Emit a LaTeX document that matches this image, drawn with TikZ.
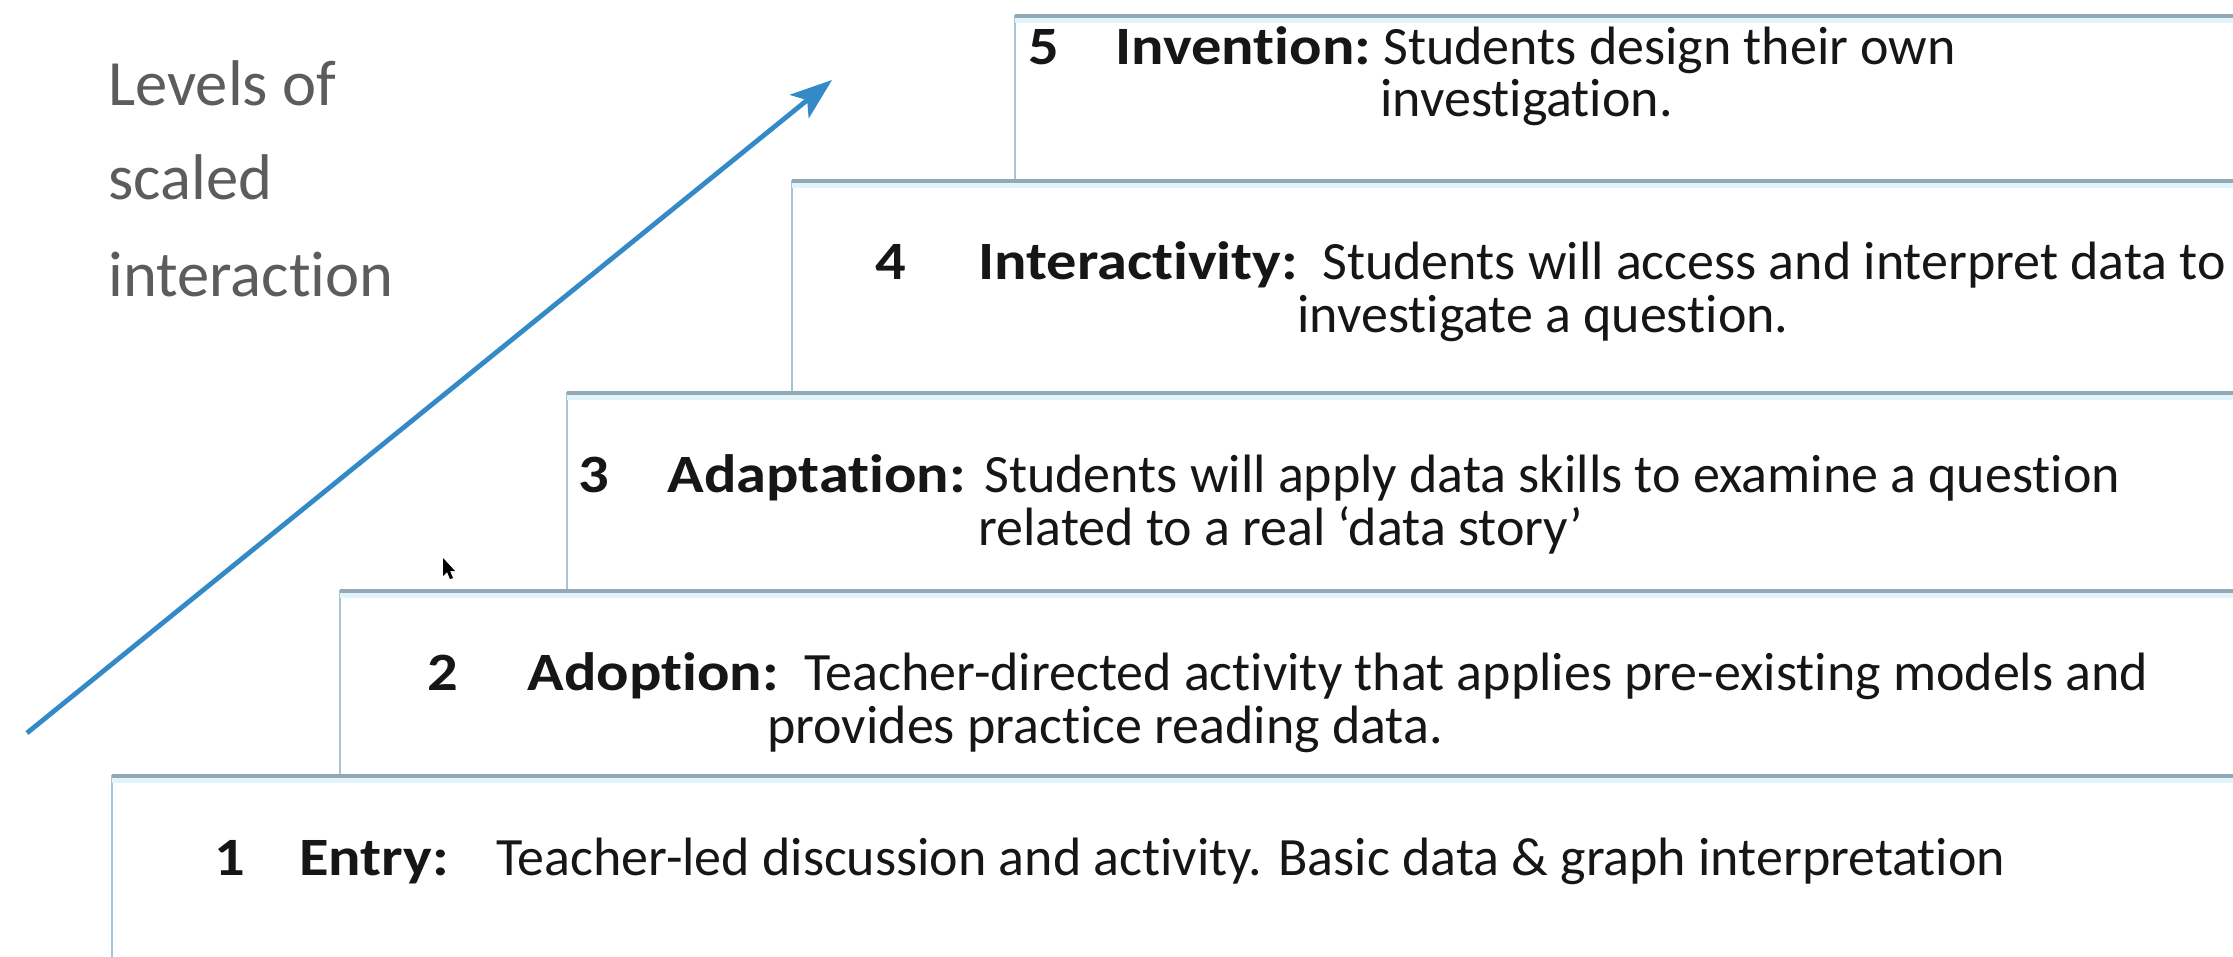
\documentclass[tikz,border=0pt]{standalone}
\usepackage{fontspec}
\setmainfont{Carlito}[Ligatures={TeX,NoCommon},BoldFeatures={FakeStretch=1.12}]
\usetikzlibrary{arrows.meta}

\definecolor{arrowblue}{RGB}{52,138,199}
\definecolor{edgetop}{RGB}{146,168,181}
\definecolor{edgeside}{RGB}{165,196,214}
\definecolor{glow}{RGB}{226,244,250}
\definecolor{captiongray}{RGB}{92,92,92}
\definecolor{bodytext}{RGB}{22,22,22}

\tikzset{
  levelbox/.style={draw=edgeside, line width=1.2pt, fill=white},
  topedge/.style={draw=edgetop, line width=2pt},
  topglow/.style={draw=glow, line width=3pt},
  caption/.style={anchor=base west, inner sep=0pt, text=captiongray,
                  font=\fontsize{32.3}{38}\selectfont},
  levelnum/.style={anchor=base west, inner sep=0pt, text=bodytext,
                   font=\fontsize{27}{30}\selectfont\bfseries},
  levelname/.style={anchor=base west, inner sep=0pt, text=bodytext,
                    font=\fontsize{27}{30}\selectfont\bfseries},
  leveltext/.style={anchor=base west, inner sep=0pt, text=bodytext,
                    font=\fontsize{27}{30}\selectfont},
  risearrow/.style={draw=arrowblue, line width=2.4pt,
                    -{Stealth[length=21pt,width=15pt,inset=5pt]}}
}

\begin{document}
\begin{tikzpicture}[x=0.5pt,y=-0.5pt]
  \useasboundingbox (0,0) rectangle (2233,957);
  \clip (0,0) rectangle (2233,957);
  \fill[white] (0,0) rectangle (2233,957);

  % the five stacked level boxes (open to the right edge)
  \foreach \name/\l/\t/\b in {box5/1015/16/181, box4/792/181/393,
                              box3/567/393/591, box2/340/591/776,
                              box1/112/776/1000} {
    \path[levelbox] (\l,\t) rectangle (2260,\b);
    \coordinate (\name-nw) at (\l,\t);
    \coordinate (\name-ne) at (2260,\t);
    \draw[topglow] ([yshift=-2pt]\name-nw) -- ([yshift=-2pt]\name-ne);
    \draw[topedge] (\name-nw) -- (\name-ne);
  }

  % caption on the left
  \node[caption] (cap1) at (108,106) {Levels of};
  \node[caption] (cap2) at (108,200) {scaled};
  \node[caption] (cap3) at (108,297) {interaction};

  % rising arrow
  \coordinate (arrowstart) at (27,733);
  \coordinate (arrowtip) at (832,80);
  \draw[risearrow] (arrowstart) -- (arrowtip);

  % level 5
  \node[levelnum]  (n5)  at (1028,65) {5};
  \node[levelname] (l5)  at (1115,65) {Invention:};
  \node[leveltext] (t5a) at (1383,65) {Students design their own};
  \node[leveltext] (t5b) at (1380,117) {investigation.};

  % level 4
  \node[levelnum]  (n4)  at (875,280) {4};
  \node[levelname] (l4)  at (978,280) {Interactivity:};
  \node[leveltext] (t4a) at (1322,280) {Students will access and interpret data to};
  \node[leveltext] (t4b) at (1297,333) {investigate a question.};

  % level 3
  \node[levelnum]  (n3)  at (578,492) {3};
  \node[levelname] (l3)  at (667,492) {Adaptation:};
  \node[leveltext] (t3a) at (984,492) {Students will apply data skills to examine a question};
  \node[leveltext] (t3b) at (978,545) {related to a real ‘data story’};

  % level 2
  \node[levelnum]  (n2)  at (427,690) {2};
  \node[levelname] (l2)  at (527,690) {Adoption:};
  \node[leveltext] (t2a) at (804,690) {Teacher-directed activity that applies pre-existing models and};
  \node[leveltext] (t2b) at (767,743) {provides practice reading data.};

  % level 1
  \node[levelnum]  (n1)  at (214,875) {1};
  \node[levelname] (l1)  at (299,875) {Entry:};
  \node[leveltext] (t1a) at (496,875) {Teacher-led discussion and activity. Basic data \& graph interpretation};

  % mouse pointer
  \fill[black] (443,558) -- (443,576) -- (447,572) -- (450,579) -- (453,578)
               -- (450,571) -- (455,571) -- cycle;
\end{tikzpicture}
\end{document}
